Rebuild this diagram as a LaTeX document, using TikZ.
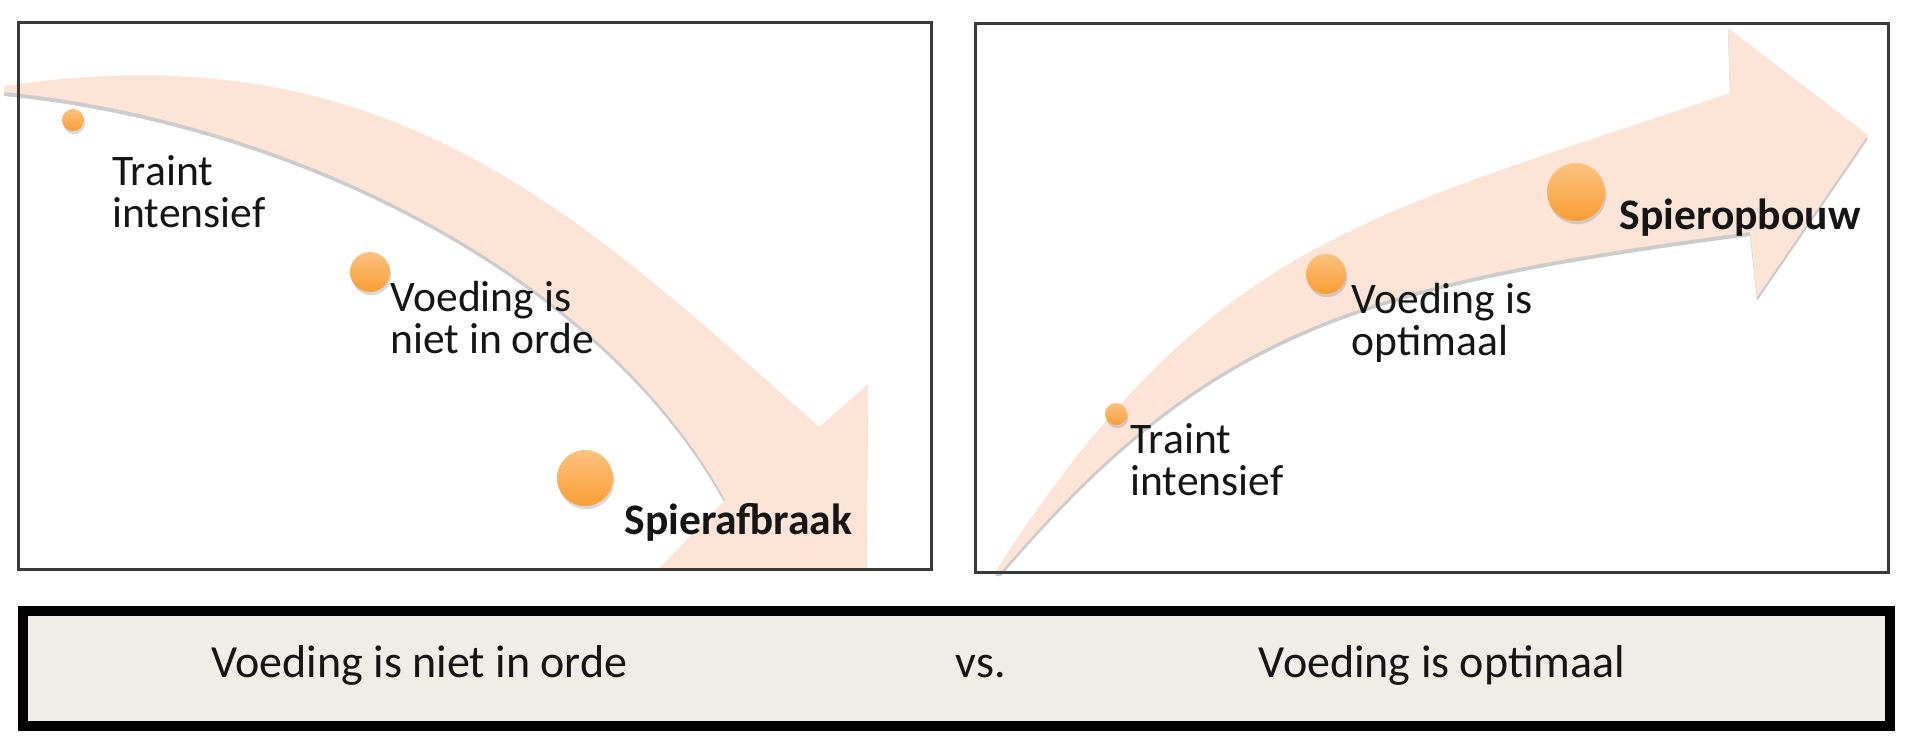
\documentclass[tikz,border=0pt]{standalone}
\usepackage{fontspec}
\setmainfont{Carlito}
\usepackage{xcolor}
\definecolor{frameDark}{HTML}{3A3A3A}
\definecolor{bandPeach}{HTML}{FCE4D6}
\definecolor{dotLight}{HTML}{FDC27F}
\definecolor{dotDark}{HTML}{F99E35}
\definecolor{barBg}{HTML}{EFEDE6}
\definecolor{textDark}{HTML}{151515}
\usepackage{tikz}
\usetikzlibrary{positioning,shadows}
\tikzset{%
  panelBox/.style={%
    draw=frameDark,
    line width=1.5pt
  },
  bandArrow/.style={%
    fill=bandPeach,
    drop shadow={shadow xshift=0pt, shadow yshift=-2pt, opacity=0.4}
  },
  stepDot/.style={%
    circle,
    inner sep=0pt,
    top color=dotLight,
    bottom color=dotDark,
    drop shadow={shadow xshift=0.6pt, shadow yshift=-1.6pt, opacity=0.3}
  },
  stepLabel/.style={%
    anchor=base west,
    inner sep=0pt,
    align=left,
    text=textDark,
    font=\fontsize{21.8}{21}\selectfont
  },
  resultLabel/.style={%
    stepLabel,
    font=\fontsize{21.8}{21}\selectfont\bfseries
  },
  compareBar/.style={%
    rectangle,
    draw=black,
    line width=5pt,
    fill=barBg,
    minimum width=933.5pt,
    minimum height=57.5pt,
    drop shadow={shadow xshift=0pt, shadow yshift=-2pt, opacity=0.15}
  },
  barText/.style={%
    anchor=base,
    inner sep=0pt,
    text=textDark,
    font=\fontsize{23}{26}\selectfont
  }
}

\begin{document}
\begin{tikzpicture}[x=0.5pt, y=-0.5pt]
  \useasboundingbox (0,0) rectangle (1920,750);

  % left panel: downward arrow
  \begin{scope}
    \clip (0,0) rectangle (931,569);
    \fill[bandArrow] (4,86) .. controls (384,29) and (573,207) .. (819,427)
      -- (868,384) -- (866,625) -- (640,588) -- (725,500)
      .. controls (605,280) and (304,122) .. (4,92) -- cycle;
  \end{scope}
  \draw[panelBox] (18,22) rectangle (931,569);

  % right panel: upward arrow
  \fill[bandArrow] (995,572) .. controls (1211,236) and (1370,216) .. (1730,93)
    -- (1728,28) -- (1868,135) -- (1757,297) -- (1750,232)
    .. controls (1354,284) and (1209,329) .. (1001,572) -- cycle;
  \draw[panelBox] (975,23) rectangle (1888,572);

  % left steps
  \node[stepDot, minimum size=11pt] (dotTrainL) at (73,120) {};
  \node[stepDot, minimum size=20pt] (dotFoodL) at (370,272) {};
  \node[stepDot, minimum size=28pt] (dotLoss) at (585,478) {};
  \node[stepLabel] (trainL) at (112,227) {Traint\\intensief};
  \node[stepLabel] (foodL) at (390,353) {Voeding is\\niet in orde};
  \node[resultLabel] (loss) at (624,534) {Spierafbraak};

  % right steps
  \node[stepDot, minimum size=11pt] (dotTrainR) at (1116,414) {};
  \node[stepDot, minimum size=20pt] (dotFoodR) at (1326,274) {};
  \node[stepDot, minimum size=29pt] (dotGain) at (1576,192) {};
  \node[stepLabel] (trainR) at (1130,495) {Traint\\intensief};
  \node[stepLabel] (foodR) at (1351,355) {Voeding is\\optimaal};
  \node[resultLabel] (gain) at (1619,229) {Spieropbouw};

  % comparison bar
  \node[compareBar] (bar) at (956.5,668.5) {};
  \node[barText] (badFood) at (419.5,677) {Voeding is niet in orde};
  \node[barText] (versus) at (981,677) {vs.};
  \node[barText] (goodFood) at (1442,677) {Voeding is optimaal};
\end{tikzpicture}
\end{document}
